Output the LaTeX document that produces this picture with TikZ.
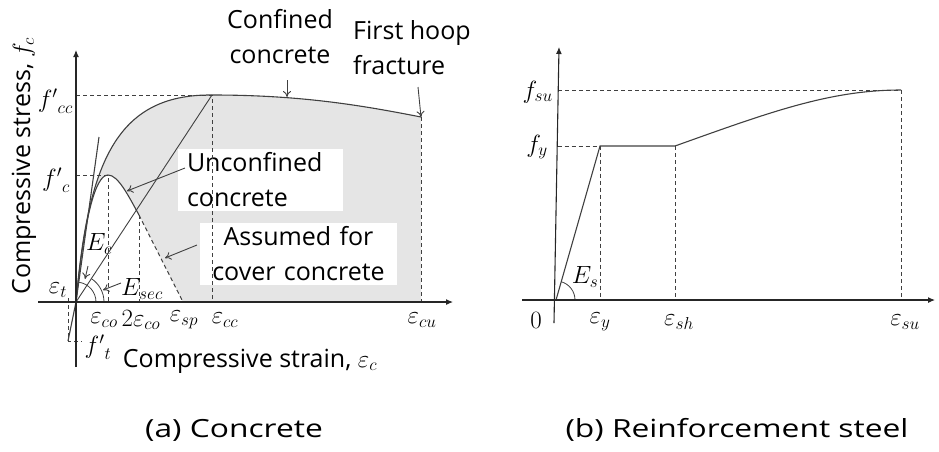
\documentclass[tikz,border=0pt]{standalone}
\usepackage{amsmath}
\usepackage{fontspec}
\setmainfont{Open Sans}
\usepackage{tikz}
\usetikzlibrary{calc,positioning,arrows.meta}

\begin{document}
\begin{tikzpicture}[x=1pt,y=1pt]
  \tikzset{ ax/.style={black!85,line width=1.1pt,-{Latex[length=7pt,width=6pt]}},
    crv/.style={black!75,line width=1.1pt},
    dsh/.style={black!75,line width=0.8pt,dash pattern=on 4pt off 3pt},
    ann/.style={black!75,line width=0.9pt,-{To[length=6pt,width=8pt]}},
    lbl/.style={font=\fontsize{25}{35}\selectfont,inner sep=1pt},
    mth/.style={font=\fontsize{24}{28}\selectfont,inner sep=0pt},
    box/.style={lbl,fill=white,inner xsep=9pt,inner ysep=4pt},
    captxt/.style={lbl,xscale=1.27},
  }
  \useasboundingbox (0,0) rectangle (939,-451);

  % (a) concrete: points
  \coordinate (o) at (76,-302);
  \coordinate (pk) at (212,-95);
  \coordinate (cu) at (421,-117);
  \coordinate (co) at (108,-175);
  \coordinate (tco) at (139,-215);
  \coordinate (sp) at (183,-302);
  \coordinate (ft) at (68,-341);
  \coordinate (ec) at (99,-137);

  % shaded area between the two curves
  \fill[gray!20] (o) .. controls (88,-165) and (115,-94) .. (pk)
    .. controls (300,-95) and (360,-105) .. (cu) -- (cu |- o) -- (sp) -- (tco)
    .. controls (128,-195) and (118,-175) .. (co)
    .. controls (95,-175) and (84,-220) .. (o) -- cycle;

  \node[box,text width=147pt,align=left] (unc) at (260.5,-180) {Unconfined\\concrete};
  \node[box,text width=179pt,align=center] (cov) at (298.5,-254) {Assumed for\\cover concrete};

  % guide lines
  \draw[dsh] (o |- pk) -- (pk) -- (pk |- o);
  \draw[dsh] (o |- co) -- (co) -- (co |- o);
  \draw[dsh] (tco) -- (tco |- o);
  \draw[dsh] (cu) -- (cu |- o);
  \draw[dsh] (68,-298) -- (ft) -- (82,-341);

  % the curves
  \draw[crv] (o) .. controls (88,-165) and (115,-94) .. (pk)
    .. controls (300,-95) and (360,-105) .. (cu);
  \draw[crv] (o) .. controls (84,-220) and (95,-175) .. (co)
    .. controls (118,-175) and (128,-195) .. (tco);
  \draw[dsh,line width=1pt] (tco) -- (sp);
  \draw[crv] (ft) -- (o) -- (ec);
  \draw[crv,line width=0.9pt] (o) -- (pk);
  \draw[crv,line width=0.8pt] ($(o)+(20,0)$) arc (0:82:20pt);
  \draw[crv,line width=0.8pt] ($(o)+(28,0)$) arc (0:57:28pt);

  % axes
  \draw[ax] (38,-302) -- (453,-302);
  \draw[ax] (76,-367) -- (76,-50);

  % labels
  \node[lbl,align=center] (conf) at (280,-37) {Confined\\concrete};
  \node[lbl,align=left] (hoop) at (412,-48) {First hoop\\fracture};
  \coordinate (confa) at (287,-80);
  \coordinate (confb) at (287,-97);
  \coordinate (hoopa) at (418,-87);
  \coordinate (unca) at (185,-168);
  \coordinate (uncb) at (127,-191);
  \coordinate (cova) at (197,-245);
  \coordinate (covb) at (165,-258);
  \draw[ann] (confa) -- (confb);
  \draw[ann] (hoopa) -- (cu);
  \draw[ann] (unca) -- (uncb);
  \draw[ann] (cova) -- (covb);

  \node[mth] (Ec) at (99,-244) {$E_c$};
  \node[mth] (Esec) at (142,-289) {$E_{sec}$};
  \coordinate (eca) at (88,-266);
  \coordinate (ecb) at (85,-279);
  \coordinate (seca) at (121,-283);
  \coordinate (secb) at (103,-290);
  \draw[ann] (eca) -- (ecb);
  \draw[ann] (seca) -- (secb);

  \node[mth,anchor=east] (fcc) at (73,-101) {${f'}_{cc}$};
  \node[mth,anchor=east] (fc) at (70,-180) {${f'}_{c}$};
  \node[mth] (et) at (58,-290) {$\varepsilon_{t}$};
  \node[mth] (ftl) at (98,-347) {${f'}_{t}$};
  \node[mth] (eco) at (104,-320) {$\varepsilon_{co}$};
  \node[mth] (teco) at (141,-320) {$2\varepsilon_{co}$};
  \node[mth] (esp) at (184,-320) {$\varepsilon_{sp}$};
  \node[mth] (ecc) at (225,-320) {$\varepsilon_{cc}$};
  \node[mth] (ecu) at (422,-320) {$\varepsilon_{cu}$};
  \node[lbl] (xa) at (250,-361) {Compressive strain, $\varepsilon_c$};
  \node[lbl,rotate=90] (ya) at (24,-166) {Compressive stress, $f_c$};

  % (b) reinforcement steel
  \coordinate (o2) at (556,-300);
  \coordinate (y) at (600,-146);
  \coordinate (sh) at (675,-146);
  \coordinate (su) at (901,-90);

  \draw[dsh] (557.5,-146) -- (y) -- (y |- o2);
  \draw[dsh] (sh) -- (sh |- o2);
  \draw[dsh] (558,-90) -- (su) -- (su |- o2);
  \draw[crv] (o2) -- (y) -- (sh) .. controls (770,-112) and (830,-90) .. (su);
  \draw[crv,line width=0.8pt] ($(o2)+(19,0)$) arc (0:74:19pt);

  \draw[ax] (522,-300) -- (935,-300);
  \draw[ax] (554,-323) -- (559,-47);

  \node[mth,anchor=east] (fsu) at (553,-92) {$f_{su}$};
  \node[mth,anchor=east] (fy) at (548,-147) {$f_{y}$};
  \node[mth] (zero) at (536,-320) {$0$};
  \node[mth] (ey) at (600,-322) {$\varepsilon_{y}$};
  \node[mth] (esh) at (679,-322) {$\varepsilon_{sh}$};
  \node[mth] (esu) at (905,-322) {$\varepsilon_{su}$};
  \node[mth] (Es) at (585,-277) {$E_{s}$};

  % captions
  \node[captxt] (capa) at (234,-430) {(a) Concrete};
  \node[captxt] (capb) at (737,-430) {(b) Reinforcement steel};
\end{tikzpicture}
\end{document}
